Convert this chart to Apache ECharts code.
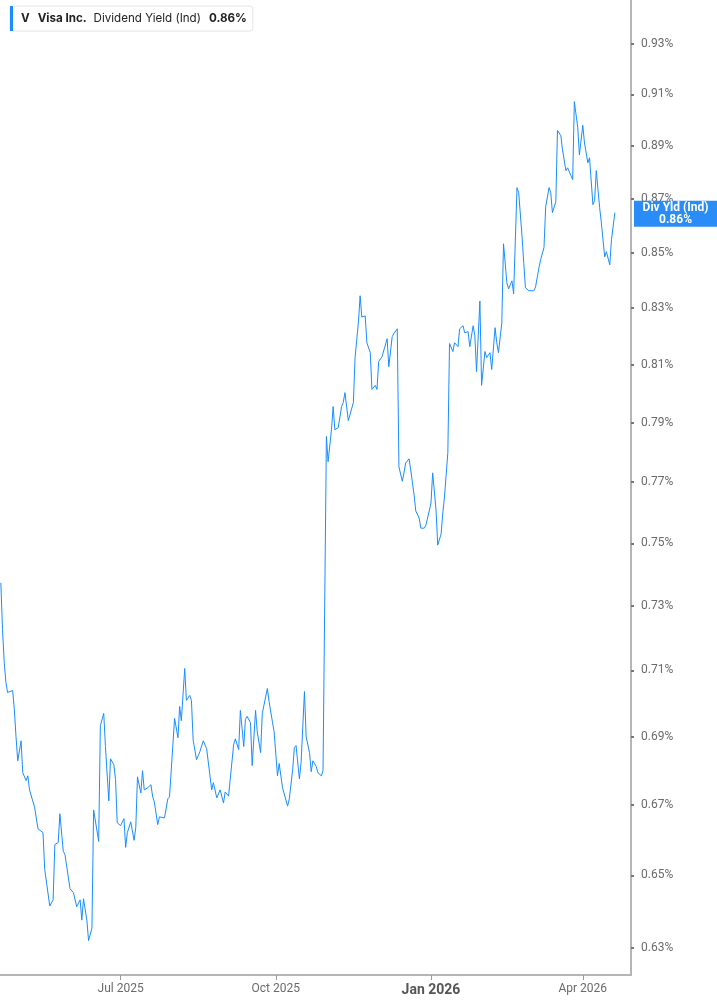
<!DOCTYPE html>
<html><head><meta charset="utf-8">
<script src="https://cdn.jsdelivr.net/npm/echarts@6/dist/echarts.min.js"></script>
<style>html,body{margin:0;padding:0;background:#fff}#c{width:717px;height:1005px}</style>
</head><body><div id="c"></div>
<script>
const ticker = 'V';
const company = 'Visa Inc.';
const metric = 'Dividend Yield (Ind)';
const tagName = 'Div Yld (Ind)';

const dates = [
'2025-04-21','2025-04-22','2025-04-23','2025-04-24','2025-04-25','2025-04-28','2025-04-29','2025-04-30','2025-05-01','2025-05-03',
'2025-05-04','2025-05-06','2025-05-07','2025-05-08','2025-05-11','2025-05-13','2025-05-16','2025-05-17','2025-05-20','2025-05-22',
'2025-05-23','2025-05-25','2025-05-26','2025-05-28','2025-05-29','2025-06-01','2025-06-03','2025-06-05','2025-06-07','2025-06-08',
'2025-06-09','2025-06-11','2025-06-12','2025-06-14','2025-06-15','2025-06-18','2025-06-19','2025-06-21','2025-06-22','2025-06-24',
'2025-06-25','2025-06-27','2025-06-28','2025-06-29','2025-07-01','2025-07-03','2025-07-04','2025-07-05','2025-07-07','2025-07-09',
'2025-07-10','2025-07-11','2025-07-13','2025-07-14','2025-07-15','2025-07-17','2025-07-19','2025-07-20','2025-07-21','2025-07-23',
'2025-07-24','2025-07-27','2025-07-29','2025-07-30','2025-08-02','2025-08-04','2025-08-05','2025-08-06','2025-08-08','2025-08-09',
'2025-08-11','2025-08-12','2025-08-13','2025-08-15','2025-08-17','2025-08-19','2025-08-20','2025-08-21','2025-08-22','2025-08-24',
'2025-08-25','2025-08-27','2025-08-28','2025-08-29','2025-08-31','2025-09-01','2025-09-03','2025-09-04','2025-09-06','2025-09-07',
'2025-09-09','2025-09-10','2025-09-12','2025-09-13','2025-09-14','2025-09-16','2025-09-17','2025-09-19','2025-09-20','2025-09-22',
'2025-09-23','2025-09-24','2025-09-26','2025-09-27','2025-09-29','2025-09-30','2025-10-02','2025-10-03','2025-10-05','2025-10-06',
'2025-10-08','2025-10-09','2025-10-11','2025-10-12','2025-10-13','2025-10-15','2025-10-16','2025-10-18','2025-10-19','2025-10-21',
'2025-10-22','2025-10-23','2025-10-25','2025-10-26','2025-10-28','2025-10-29','2025-10-31','2025-11-01','2025-11-03','2025-11-04',
'2025-11-05','2025-11-07','2025-11-09','2025-11-10','2025-11-11','2025-11-13','2025-11-14','2025-11-16','2025-11-17','2025-11-19',
'2025-11-20','2025-11-21','2025-11-23','2025-11-24','2025-11-26','2025-11-27','2025-11-29','2025-11-30','2025-12-01','2025-12-03',
'2025-12-04','2025-12-06','2025-12-07','2025-12-09','2025-12-10','2025-12-12','2025-12-13','2025-12-15','2025-12-16','2025-12-17',
'2025-12-19','2025-12-20','2025-12-22','2025-12-23','2025-12-25','2025-12-26','2025-12-28','2025-12-29','2025-12-30','2026-01-01',
'2026-01-02','2026-01-04','2026-01-05','2026-01-07','2026-01-08','2026-01-09','2026-01-11','2026-01-12','2026-01-14','2026-01-15',
'2026-01-17','2026-01-18','2026-01-20','2026-01-21','2026-01-23','2026-01-24','2026-01-26','2026-01-27','2026-01-28','2026-01-30',
'2026-01-31','2026-02-02','2026-02-03','2026-02-05','2026-02-06','2026-02-08','2026-02-09','2026-02-10','2026-02-12','2026-02-13',
'2026-02-15','2026-02-16','2026-02-18','2026-02-19','2026-02-21','2026-02-22','2026-02-24','2026-02-25','2026-02-26','2026-02-28',
'2026-03-01','2026-03-03','2026-03-04','2026-03-06','2026-03-07','2026-03-09','2026-03-10','2026-03-12','2026-03-13','2026-03-14',
'2026-03-16','2026-03-17','2026-03-19','2026-03-20','2026-03-22','2026-03-23','2026-03-25','2026-03-26','2026-03-27','2026-03-29',
'2026-03-30','2026-04-01','2026-04-02','2026-04-04','2026-04-05','2026-04-07','2026-04-08','2026-04-09','2026-04-11','2026-04-12',
'2026-04-14','2026-04-15','2026-04-17','2026-04-18','2026-04-20'
];

const yields = [
0.7373,0.7226,0.7125,0.7064,0.7033,0.7039,0.6982,0.6900,0.6829,0.6888,
0.6794,0.6771,0.6785,0.6744,0.6694,0.6632,0.6621,0.6517,0.6415,0.6432,
0.6587,0.6593,0.6675,0.6568,0.6559,0.6463,0.6452,0.6413,0.6432,0.6376,
0.6435,0.6376,0.6320,0.6354,0.6686,0.6596,0.6933,0.6970,0.6871,0.6712,
0.6835,0.6818,0.6774,0.6649,0.6641,0.6661,0.6579,0.6621,0.6652,0.6599,
0.6635,0.6782,0.6735,0.6800,0.6744,0.6750,0.6759,0.6724,0.6709,0.6644,
0.6666,0.6663,0.6718,0.6724,0.6955,0.6897,0.6991,0.6948,0.7106,0.7009,
0.7024,0.7009,0.6891,0.6832,0.6856,0.6888,0.6885,0.6865,0.6865,0.6744,
0.6765,0.6721,0.6732,0.6744,0.6706,0.6738,0.6726,0.6724,0.6876,0.6894,
0.6862,0.6979,0.6871,0.6952,0.6961,0.6942,0.6815,0.6979,0.6915,0.6853,
0.6970,0.6973,0.7045,0.7006,0.6945,0.6915,0.6785,0.6821,0.6750,0.6753,
0.6697,0.6718,0.6803,0.6868,0.6874,0.6776,0.6824,0.7036,0.6900,0.6853,
0.6797,0.6829,0.6812,0.6794,0.6785,0.6800,0.7853,0.7768,0.7876,0.7955,
0.7876,0.7883,0.7955,0.7969,0.8003,0.7907,0.7907,0.7969,0.8125,0.8251,
0.8344,0.8268,0.8272,0.8177,0.8142,0.8014,0.8028,0.8014,0.8111,0.8128,
0.8132,0.8191,0.8093,0.8198,0.8209,0.8226,0.7751,0.7703,0.7731,0.7764,
0.7778,0.7741,0.7657,0.7605,0.7582,0.7549,0.7549,0.7559,0.7582,0.7631,
0.7731,0.7608,0.7494,0.7530,0.7598,0.7651,0.7798,0.8174,0.8146,0.8177,
0.8163,0.8226,0.8237,0.8212,0.8216,0.8163,0.8237,0.8202,0.8076,0.8325,
0.8028,0.8146,0.8125,0.8142,0.8083,0.8230,0.8177,0.8142,0.8247,0.8533,
0.8391,0.8369,0.8398,0.8351,0.8742,0.8723,0.8559,0.8464,0.8373,0.8362,
0.8355,0.8362,0.8376,0.8445,0.8475,0.8519,0.8670,0.8742,0.8723,0.8648,
0.8689,0.8960,0.8940,0.8885,0.8806,0.8817,0.8787,0.8772,0.9072,0.8972,
0.8866,0.8980,0.8912,0.8836,0.8855,0.8678,0.8693,0.8806,0.8667,0.8611,
0.8485,0.8504,0.8456,0.8548,0.8648
];

const yTicks = [0.63,0.65,0.67,0.69,0.71,0.73,0.75,0.77,0.79,0.81,0.83,0.85,0.87,0.89,0.91,0.93];
const xTicks = ['2025-07-01','2025-10-01','2026-01-01','2026-04-01'];
const monthNames = ['Jan','Feb','Mar','Apr','May','Jun','Jul','Aug','Sep','Oct','Nov','Dec'];

function ts(s) {
  const p = s.split('-');
  return Date.UTC(+p[0], +p[1] - 1, +p[2]);
}

const last = yields[yields.length - 1];
const lastTxt = last.toFixed(2) + '%';
const lineColor = '#1a8cff';
const font = 'Roboto, "Noto Sans", sans-serif';
const lfont = 'Inter, Roboto, sans-serif';

const chart = echarts.init(document.getElementById('c'), null, {renderer: 'canvas'});
chart.setOption({
  animation: false,
  backgroundColor: '#ffffff',
  grid: {left: 0, right: 86, top: 0, bottom: 30, containLabel: false},
  legend: {
    show: true, left: 10, top: 6,
    data: [{name: ticker, icon: 'rect'}],
    itemWidth: 3, itemHeight: 25,
    padding: [0, 6, 0, 0],
    backgroundColor: '#ffffff', borderColor: '#e4e4e4', borderWidth: 1, borderRadius: 3,
    selectedMode: false,
    formatter: function () {
      return '{b|' + ticker + '}{c|' + company + '}{n|' + metric + '}{c|' + lastTxt + '}';
    },
    textStyle: {
      fontFamily: lfont,
      rich: {
        b: {fontFamily: lfont, fontSize: 11.6, fontWeight: 'bold', color: '#222', padding: [0, 0, 0, 3]},
        c: {fontFamily: lfont, fontSize: 11.6, fontWeight: 'bold', color: '#222', padding: [0, 0, 0, 8]},
        n: {fontFamily: lfont, fontSize: 11.6, color: '#222', padding: [0, 0, 0, 7]}
      }
    }
  },
  xAxis: {
    type: 'value',
    min: Date.UTC(2025, 3, 20, 12),
    max: Date.UTC(2026, 3, 29, 14),
    axisLine: {show: true, onZero: false, lineStyle: {color: '#b5b5b5', width: 2}},
    axisTick: {show: true, customValues: xTicks.map(ts), length: 5, lineStyle: {color: '#999', width: 1}},
    splitLine: {show: false},
    axisLabel: {
      customValues: xTicks.map(ts),
      margin: 8,
      formatter: function (v) {
        const d = new Date(v);
        const s = monthNames[d.getUTCMonth()] + ' ' + d.getUTCFullYear();
        return d.getUTCMonth() === 0 ? '{y|' + s + '}' : '{m|' + s + '}';
      },
      rich: {
        m: {fontFamily: font, fontSize: 12, color: '#6a6a6a'},
        y: {fontFamily: font, fontSize: 14, fontWeight: 'bold', color: '#555'}
      }
    }
  },
  yAxis: {
    type: 'log',
    logBase: 10,
    position: 'right',
    min: 0.6227,
    max: 0.9478,
    axisLine: {show: true, lineStyle: {color: '#b5b5b5', width: 2}},
    axisTick: {show: true, customValues: yTicks, length: 3, lineStyle: {color: '#777', width: 2}},
    minorTick: {show: false},
    splitLine: {show: false},
    axisLabel: {
      customValues: yTicks,
      margin: 10,
      fontFamily: font, fontSize: 12, color: '#6a6a6a',
      formatter: function (v) { return Number(v).toFixed(2) + '%'; }
    }
  },
  series: [{
    name: ticker,
    type: 'line',
    data: dates.map(function (d, i) { return [ts(d), yields[i]]; }),
    showSymbol: false,
    symbol: 'none',
    lineStyle: {color: lineColor, width: 1},
    itemStyle: {color: lineColor},
    markLine: {
      silent: true,
      symbol: 'none',
      lineStyle: {color: 'rgba(0,0,0,0)', width: 0},
      data: [{yAxis: last}],
      label: {
        show: true,
        opacity: 1,
        position: 'end',
        distance: 3,
        offset: [0, -12],
        formatter: '{a|' + tagName + '}\n{a|' + lastTxt + '}',
        backgroundColor: '#2a8cf7',
        padding: [1, 3, 1, 3],
        rich: {
          a: {width: 77, align: 'center', fontFamily: font, fontSize: 12, fontWeight: 'bold', color: '#ffffff', lineHeight: 12}
        }
      }
    }
  }]
});
</script>
</body></html>
